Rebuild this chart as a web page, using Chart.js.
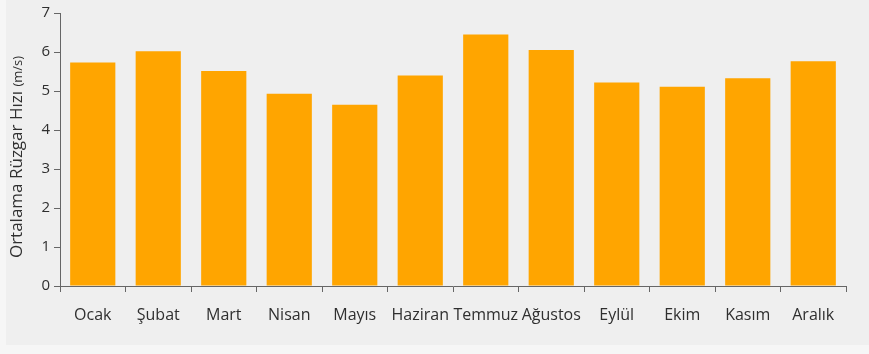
<!DOCTYPE html>
<html>
<head>
<meta charset="utf-8">
<script src="https://cdn.jsdelivr.net/npm/chart.js@4"></script>
<style>
	html, body { margin: 0; padding: 0; background: #f6f6f6; }
	#wrap { position: relative; width: 869px; height: 354px; }
	#panel { position: absolute; left: 6px; top: 0; width: 863px; height: 345px; background: #efefef; }
	#chart { position: absolute; left: 0; top: 0; }
</style>
</head>
<body>
<div id="wrap">
	<div id="panel"></div>
	<canvas id="chart" width="869" height="354"></canvas>
</div>
<script>
// aylar ve ortalama rüzgar hızları (m/s)
var months = ["Ocak", "Şubat", "Mart", "Nisan", "Mayıs", "Haziran", "Temmuz", "Ağustos", "Eylül", "Ekim", "Kasım", "Aralık"];
var windSpeed = [5.73, 6.02, 5.51, 4.93, 4.65, 5.40, 6.45, 6.05, 5.22, 5.11, 5.33, 5.76];
var yTicks = [0, 1, 2, 3, 4, 5, 6, 7];

var FONT = "'Open Sans', 'Noto Sans', sans-serif";
var TEXT = "#2f2f2f";
var AXIS = "#666666";

// y ekseni başlığı: ana metin + küçük birim
var yTitle = {
	id: "yTitle",
	afterDraw: function(chart)
	{
		var ctx = chart.ctx;
		var main = "Ortalama Rüzgar Hızı ";
		var unit = "(m/s)";
		ctx.save();
		ctx.fillStyle = TEXT;
		ctx.textBaseline = "alphabetic";
		ctx.font = "17px " + FONT;
		var w1 = ctx.measureText(main).width;
		ctx.font = "13px " + FONT;
		var w2 = ctx.measureText(unit).width;
		var cy = 157;
		ctx.translate(22, cy + (w1 + w2) / 2);
		ctx.rotate(-Math.PI / 2);
		ctx.font = "17px " + FONT;
		ctx.fillText(main, 0, 0);
		ctx.font = "13px " + FONT;
		ctx.fillText(unit, w1, 0);
		ctx.restore();
	}
};

new Chart(document.getElementById("chart"), {
	type: "bar",
	data: {
		labels: months,
		datasets: [{
			data: windSpeed,
			backgroundColor: "#ffa500",
			borderWidth: 0,
			categoryPercentage: 1.0,
			barPercentage: 0.69
		}]
	},
	options: {
		responsive: false,
		animation: false,
		layout: { padding: { top: 12, right: 23, bottom: 28, left: 0 } },
		plugins: { legend: { display: false }, tooltip: { enabled: false } },
		scales: {
			x: {
				offset: true,
				grid: { offset: true, drawOnChartArea: false, tickLength: 6, color: AXIS },
				border: { color: AXIS, width: 1 },
				ticks: { color: TEXT, font: { family: FONT, size: 16 }, padding: 14, maxRotation: 0, autoSkip: false },
				afterFit: function(s) { s.height = 40; }
			},
			y: {
				min: 0,
				max: 7,
				afterBuildTicks: function(s) { s.ticks = yTicks.map(function(v) { return { value: v }; }); },
				grid: { drawOnChartArea: false, tickLength: 6, color: AXIS },
				border: { color: AXIS, width: 1 },
				ticks: { color: TEXT, font: { family: FONT, size: 15 }, padding: 4 },
				afterFit: function(s) { s.width = 60; }
			}
		}
	},
	plugins: [yTitle]
});
</script>
</body>
</html>
